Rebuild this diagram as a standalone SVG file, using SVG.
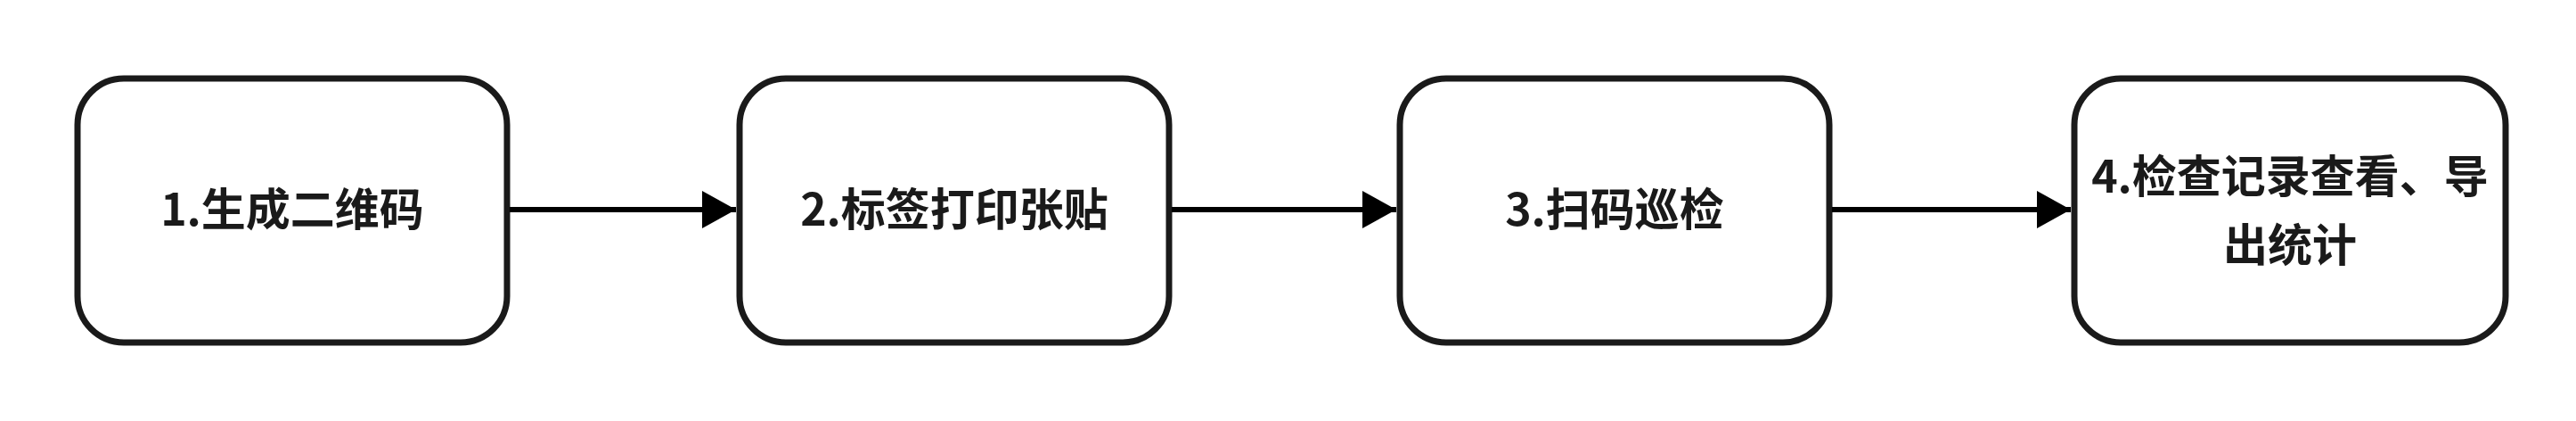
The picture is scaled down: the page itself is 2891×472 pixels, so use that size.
<svg xmlns="http://www.w3.org/2000/svg" width="2891" height="472" viewBox="0 0 2891 472">
<style>
.box{fill:#fff;stroke:#1a1a1a;stroke-width:7}
.t{font-family:"Noto Sans CJK SC","Noto Sans",sans-serif;font-weight:bold;font-size:50px;fill:#1a1a1a;text-anchor:middle}
.c{stroke:#000;stroke-width:6;fill:none}
</style>
<defs><marker id="a" markerUnits="userSpaceOnUse" markerWidth="40" markerHeight="44" refX="38" refY="21" orient="auto"><path d="M0,0L38,21L0,42Z" fill="#000"/></marker></defs>
<rect width="2891" height="472" fill="#fff"/>
<g id="n1"><rect class="box" x="87" y="88" width="482" height="296" rx="52"/><text class="t" x="328" y="253">1.生成二维码</text></g>
<g id="n2"><rect class="box" x="830" y="88" width="482" height="296" rx="52"/><text class="t" x="1071" y="253">2.标签打印张贴</text></g>
<g id="n3"><rect class="box" x="1571" y="88" width="482" height="296" rx="52"/><text class="t" x="1812" y="253">3.扫码巡检</text></g>
<g id="n4"><rect class="box" x="2328" y="88" width="484" height="296" rx="52"/><text class="t" x="2570" y="216">4.检查记录查看、导</text><text class="t" x="2570" y="293">出统计</text></g>
<g id="connectors">
<path class="c" d="M572,235H826" marker-end="url(#a)"/>
<path class="c" d="M1315,235H1567" marker-end="url(#a)"/>
<path class="c" d="M2056,235H2324" marker-end="url(#a)"/>
</g>
</svg>
